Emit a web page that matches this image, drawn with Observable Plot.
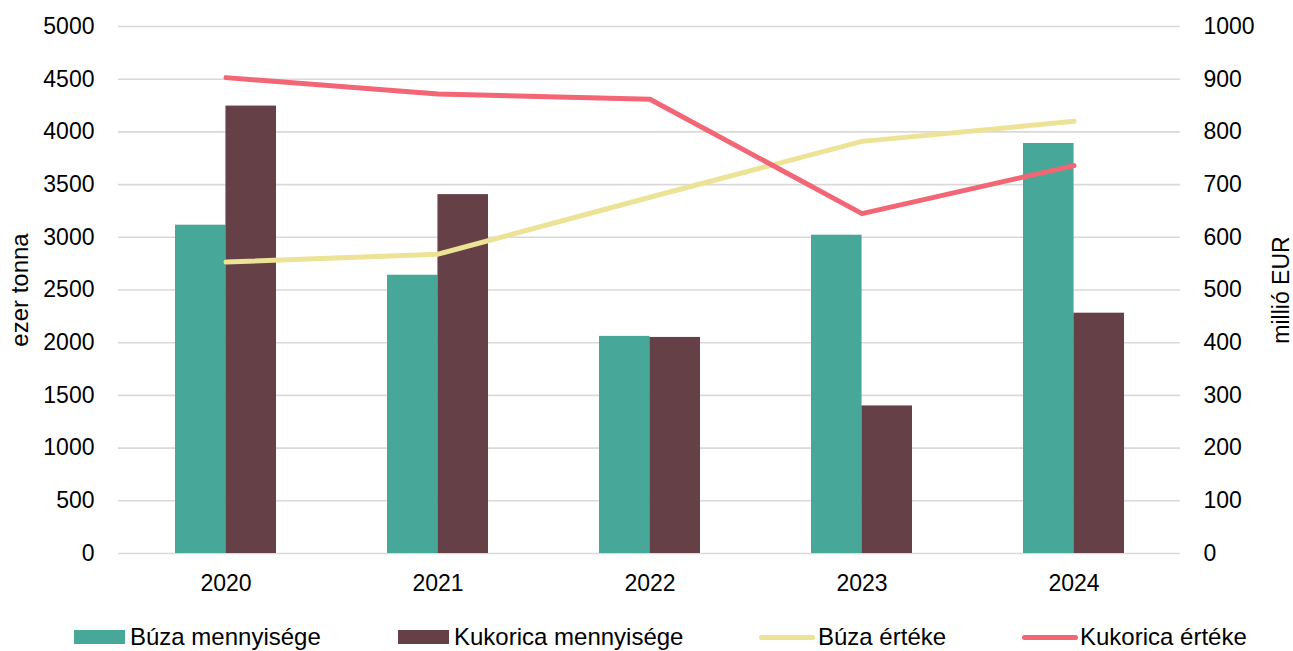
<!DOCTYPE html>
<html>
<head>
<meta charset="utf-8">
<script src="https://cdn.jsdelivr.net/npm/d3@7"></script>
<script src="https://cdn.jsdelivr.net/npm/@observablehq/plot@0.6"></script>
<style>
  html, body { margin: 0; padding: 0; background: #fff; overflow: hidden; }
  body { width: 1293px; height: 651px; font-family: "Liberation Sans", Arial, sans-serif; }
  #legend { position: relative; height: 36px; font-size: 24px; color: #000; }
  #legend .sw { position: absolute; }
  #legend .tx { position: absolute; line-height: 1; white-space: nowrap; }
</style>
</head>
<body>
<div id="chart"></div>
<div id="legend"></div>
<script>
const years = ["2020", "2021", "2022", "2023", "2024"];
const buzaQty = [3115, 2640, 2060, 3020, 3890];
const kukoricaQty = [4245, 3405, 2050, 1400, 2280];
const buzaVal = [553, 568, 676, 782, 820];
const kukoricaVal = [903, 872, 862, 645, 736];
const leftTicks = [0, 500, 1000, 1500, 2000, 2500, 3000, 3500, 4000, 4500, 5000];
const seriesNames = ["Búza mennyisége", "Kukorica mennyisége", "Búza értéke", "Kukorica értéke"];
const colors = ["#47a798", "#654147", "#ece397", "#f26676"];
const ratio = 5; // 1000 millió EUR ↔ 5000 ezer tonna

const W = 1293, H = 615;
const mL = 118, mR = 113, mT = 26, mB = H - 553;
const pIn = 0.525, pOut = 0.2625;
const step = (W - mL - mR) / (years.length - pIn + 2 * pOut);
const half = step * (1 - pIn) / 2;

const rows = years.map((y, i) => ({year: y, bq: buzaQty[i], kq: kukoricaQty[i], bv: buzaVal[i] * ratio, kv: kukoricaVal[i] * ratio}));

const chart = Plot.plot({
  width: W, height: H,
  marginLeft: mL, marginRight: mR, marginTop: mT, marginBottom: mB,
  style: {fontSize: "23px", fontFamily: "'Liberation Sans', Arial, sans-serif", color: "#000", background: "#fff"},
  x: {domain: years, paddingInner: pIn, paddingOuter: pOut, label: null},
  y: {domain: [0, 5000], label: null},
  marks: [
    Plot.ruleY(leftTicks, {stroke: "#d9d9d9", strokeWidth: 1.6}),
    Plot.barY(rows, {x: "year", y: "bq", fill: colors[0], insetRight: half}),
    Plot.barY(rows, {x: "year", y: "kq", fill: colors[1], insetLeft: half}),
    Plot.line(rows, {x: "year", y: "bv", stroke: colors[2], strokeWidth: 5, strokeLinecap: "round", strokeLinejoin: "round"}),
    Plot.line(rows, {x: "year", y: "kv", stroke: colors[3], strokeWidth: 5, strokeLinecap: "round", strokeLinejoin: "round"}),
    Plot.axisY(leftTicks, {anchor: "left", tickSize: 0, tickPadding: 24, label: null, tickFormat: d => String(d)}),
    Plot.axisY(leftTicks, {anchor: "right", tickSize: 0, tickPadding: 23, label: null, tickFormat: d => String(d / ratio), textAnchor: "start"}),
    Plot.axisX({tickSize: 0, tickPadding: 21, label: null}),
    Plot.text(["ezer tonna"], {frameAnchor: "left", dx: -98, rotate: -90, fontSize: 24, textAnchor: "middle"}),
    Plot.text(["millió EUR"], {frameAnchor: "right", dx: 101, rotate: -90, fontSize: 23, textAnchor: "middle"})
  ]
});
document.getElementById("chart").appendChild(chart);

const legend = document.getElementById("legend");
const items = [
  {type: "rect", sx: 74, tx: 130},
  {type: "rect", sx: 398, tx: 454},
  {type: "line", sx: 759, tx: 818},
  {type: "line", sx: 1022, tx: 1080}
];
items.forEach((it, i) => {
  const sw = document.createElement("div");
  sw.className = "sw";
  if (it.type === "rect") {
    Object.assign(sw.style, {left: it.sx + "px", top: "15px", width: "51px", height: "14px", background: colors[i]});
  } else {
    Object.assign(sw.style, {left: it.sx + "px", top: "20px", width: "56px", height: "5px", background: colors[i], borderRadius: "3px"});
  }
  legend.appendChild(sw);
  const tx = document.createElement("div");
  tx.className = "tx";
  tx.textContent = seriesNames[i];
  Object.assign(tx.style, {left: it.tx + "px", top: "10px"});
  legend.appendChild(tx);
});
</script>
</body>
</html>
